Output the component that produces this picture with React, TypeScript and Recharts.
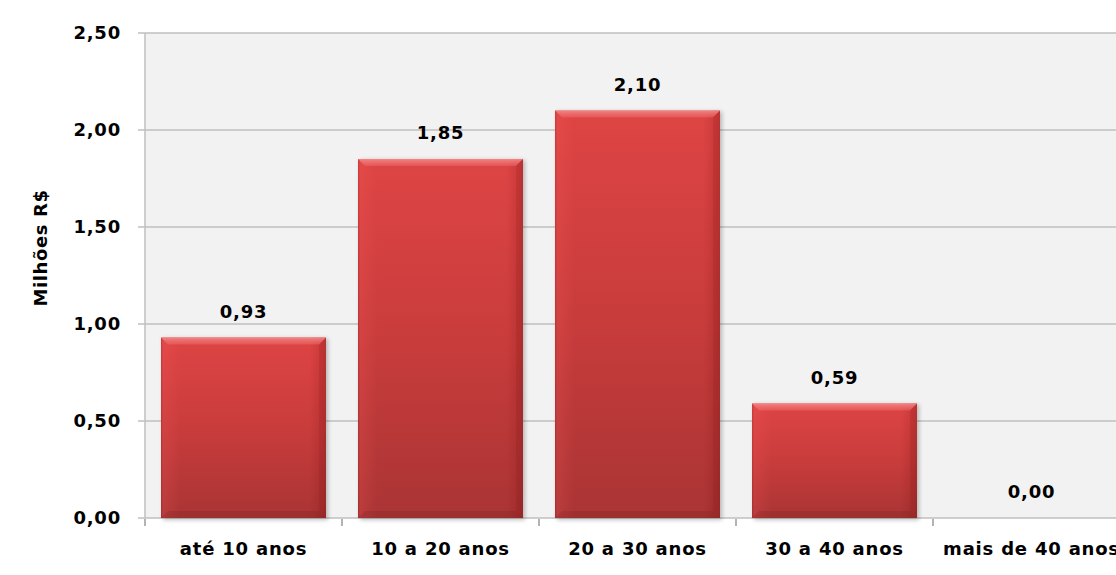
import React from 'react';
import { BarChart, Bar, XAxis, YAxis, CartesianGrid, LabelList } from 'recharts';

// Faixas de idade e valores (milhões de R$)
const categories = ['até 10 anos', '10 a 20 anos', '20 a 30 anos', '30 a 40 anos', 'mais de 40 anos'];
const values = [0.93, 1.85, 2.1, 0.59, 0.0];
const yTicks = [0, 0.5, 1, 1.5, 2, 2.5];
const edgeTicks = [0, 1, 2, 3, 4, 5];

const data = categories.map((name, i) => ({ name, pos: i + 0.5, value: values[i] }));

const FONT = '"DejaVu Sans", Verdana, sans-serif';
const fmt = (v: number) => v.toFixed(2).replace('.', ',');

// Bevelled red bar with soft shadow
function BevelBar(props: any) {
  const { x, y, width, height, index } = props;
  if (!height || height <= 0.5) return null;
  const w = width;
  const h = height;
  const b = Math.min(7, h / 2, w / 2);
  const id = `bb${index}`;
  return (
    <g>
      <defs>
        <linearGradient id={`${id}-body`} x1="0" y1="0" x2="0" y2="1">
          <stop offset="0" stopColor="#de4444" />
          <stop offset="0.5" stopColor="#c93c3c" />
          <stop offset="1" stopColor="#aa3434" />
        </linearGradient>
        <linearGradient id={`${id}-h`} x1="0" y1="0" x2="1" y2="0">
          <stop offset="0" stopColor="#8a2222" stopOpacity="0.3" />
          <stop offset="0.015" stopColor="#ff6060" stopOpacity="0.18" />
          <stop offset="0.06" stopColor="#ff6060" stopOpacity="0.1" />
          <stop offset="0.12" stopColor="#ff6060" stopOpacity="0" />
          <stop offset="0.9" stopColor="#700000" stopOpacity="0" />
          <stop offset="1" stopColor="#700000" stopOpacity="0.2" />
        </linearGradient>
        <linearGradient id={`${id}-top`} x1="0" y1="0" x2="0" y2="1">
          <stop offset="0" stopColor="#f48a8a" stopOpacity="0.9" />
          <stop offset="1" stopColor="#f07070" stopOpacity="0.4" />
        </linearGradient>
        <filter id={`${id}-sh`} x="-10%" y="-10%" width="120%" height="120%">
          <feGaussianBlur stdDeviation="2" />
        </filter>
      </defs>
      <rect x={x + 2} y={y + 1} width={w} height={h + 1} fill="#000" opacity={0.25} filter={`url(#${id}-sh)`} />
      <rect x={x} y={y} width={w} height={h} fill={`url(#${id}-body)`} />
      <rect x={x} y={y} width={w} height={h} fill={`url(#${id}-h)`} />
      <polygon
        points={`${x},${y} ${x + w},${y} ${x + w - b},${y + b} ${x + b},${y + b}`}
        fill={`url(#${id}-top)`}
      />
      <polygon
        points={`${x},${y + h} ${x + b},${y + h - b} ${x + w - b},${y + h - b} ${x + w},${y + h}`}
        fill="#6e1c1c"
        opacity={0.2}
      />
      <polygon
        points={`${x + w},${y} ${x + w},${y + h} ${x + w - b},${y + h - b} ${x + w - b},${y + b}`}
        fill="#7a1c1c"
        opacity={0.15}
      />
    </g>
  );
}

const tickStyle = { fontFamily: FONT, fontSize: 18, fontWeight: 700, fill: '#000', letterSpacing: 0.8 };

export default function App() {
  return (
    <div
      style={{
        position: 'absolute',
        left: 0,
        top: 0,
        width: 1116,
        height: 575,
        overflow: 'hidden',
        background: '#fff',
      }}
    >
      <BarChart
        width={1140}
        height={575}
        data={data}
        margin={{ top: 33, right: 10, left: 0, bottom: 0 }}
        barCategoryGap={16}
      >
        <CartesianGrid vertical={false} stroke="#bfbfbf" strokeWidth={1.5} fill="#f2f2f2" />
        {/* category labels, sitting directly on the plot's bottom edge */}
        <XAxis
          xAxisId="cat"
          dataKey="name"
          height={1}
          axisLine={false}
          tickLine={false}
          tickSize={0}
          tickMargin={24}
          interval={0}
          tick={tickStyle}
        />
        {/* tick marks on the category boundaries */}
        <XAxis
          xAxisId="edge"
          type="number"
          dataKey="pos"
          domain={[0, 5]}
          ticks={edgeTicks}
          tickFormatter={() => ''}
          tickSize={7}
          height={56}
          axisLine={false}
          tickLine={{ stroke: '#9a9a9a', strokeWidth: 1.5 }}
          allowDataOverflow
        />
        <YAxis
          width={145}
          domain={[0, 2.5]}
          ticks={yTicks}
          tickFormatter={fmt}
          tick={tickStyle}
          tickSize={7}
          tickMargin={17}
          stroke="#bfbfbf"
          strokeWidth={1.5}
          label={{
            content: () => (
              <text
                x={40}
                y={248}
                transform="rotate(-90 40 248)"
                textAnchor="middle"
                dominantBaseline="central"
                style={{ fontFamily: FONT, fontSize: 18, fontWeight: 700, letterSpacing: 0.6 }}
                fill="#000"
              >
                Milhões R$
              </text>
            ),
          }}
        />
        <Bar dataKey="value" xAxisId="cat" shape={<BevelBar />} isAnimationActive={false}>
          <LabelList
            dataKey="value"
            position="top"
            offset={20}
            formatter={(v: any) => fmt(Number(v))}
            style={{ fontFamily: FONT, fontSize: 18, fontWeight: 700, letterSpacing: 0.8 }}
            fill="#000"
          />
        </Bar>
      </BarChart>
    </div>
  );
}
